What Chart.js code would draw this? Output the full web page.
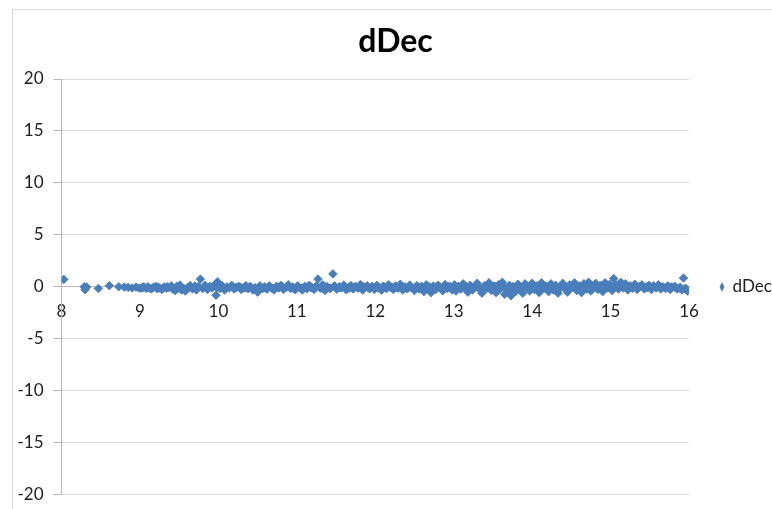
<!DOCTYPE html>
<html>
<head>
<meta charset="utf-8">
<script src="https://cdn.jsdelivr.net/npm/chart.js@4/dist/chart.umd.min.js"></script>
<style>
  html, body { margin: 0; padding: 0; width: 772px; height: 509px; overflow: hidden; background: #fff; }
  #frame { position: absolute; left: 12px; top: 9px; width: 900px; height: 700px; border: 1px solid #d9d9d9; box-sizing: border-box; }
  #wrap { position: absolute; left: 0; top: 0; width: 800px; height: 515px; }
</style>
</head>
<body>
<div id="frame"></div>
<div id="wrap"><canvas id="chart" width="800" height="515"></canvas></div>
<script>
// Series name, axis ranges and tick steps
const seriesName = 'dDec';
const xRange = [8, 16];
const xStep = 1;
const yRange = [-20, 20];
const yStep = 5;

// dDec values (x = position, y = deviation)
const dDecX = [
  8.03, 8.29, 8.30, 8.31, 8.32, 8.47, 8.61, 8.73, 8.80, 8.85, 8.90, 8.95, 8.99,
  9.02, 9.05, 9.08, 9.11, 9.14, 9.17, 9.20, 9.22, 9.25, 9.28, 9.31, 9.34, 9.37, 9.40, 9.42, 9.45, 9.47, 9.49,
  9.51, 9.53, 9.55, 9.58, 9.61, 9.64, 9.67, 9.70, 9.72, 9.75, 9.77, 9.80, 9.83, 9.86, 9.89, 9.92, 9.95, 9.97, 9.99,
  10.02, 10.05, 10.08, 10.11, 10.14, 10.17, 10.20, 10.23, 10.26, 10.29, 10.32, 10.35, 10.38, 10.41, 10.44, 10.47,
  10.50, 10.53, 10.56, 10.59, 10.62, 10.65, 10.68, 10.71, 10.74, 10.77, 10.80, 10.83, 10.86, 10.89, 10.92, 10.95, 10.98,
  11.01, 11.04, 11.07, 11.10, 11.13, 11.16, 11.19, 11.22, 11.25, 11.27, 11.30, 11.33, 11.36, 11.39, 11.42, 11.46, 11.48,
  11.51, 11.54, 11.57, 11.60, 11.63, 11.66, 11.69, 11.72, 11.75, 11.78, 11.81, 11.84, 11.87, 11.90, 11.93, 11.96, 11.99,
  12.02, 12.05, 12.08, 12.11, 12.14, 12.17, 12.20, 12.23, 12.26, 12.29, 12.32, 12.35, 12.38, 12.41, 12.44, 12.47,
  12.50, 12.53, 12.56, 12.59, 12.62, 12.65, 12.68, 12.71, 12.74, 12.77, 12.80, 12.83, 12.86, 12.89, 12.92, 12.95, 12.98,
  13.01, 13.03, 13.06, 13.09, 13.12, 13.15, 13.18, 13.21, 13.24, 13.27, 13.30, 13.33, 13.36, 13.39, 13.42, 13.45, 13.48,
  13.51, 13.54, 13.57, 13.60, 13.62, 13.65, 13.68, 13.71, 13.73, 13.76, 13.79, 13.82, 13.85, 13.88, 13.91, 13.94, 13.97,
  14.00, 14.03, 14.06, 14.09, 14.12, 14.15, 14.18, 14.21, 14.24, 14.27, 14.30, 14.33, 14.36, 14.39, 14.42, 14.45, 14.48,
  14.51, 14.54, 14.57, 14.60, 14.63, 14.66, 14.69, 14.72, 14.75, 14.78, 14.81, 14.84, 14.87, 14.90, 14.93, 14.96, 14.99,
  15.02, 15.04, 15.07, 15.10, 15.13, 15.16, 15.19, 15.22, 15.25, 15.28, 15.31, 15.34, 15.37, 15.40, 15.43, 15.46, 15.49,
  15.52, 15.55, 15.58, 15.61, 15.64, 15.67, 15.70, 15.73, 15.76, 15.79, 15.82, 15.85, 15.88, 15.91, 15.93, 15.95, 15.98,
  9.04, 9.10, 9.16, 9.23, 9.29, 9.35, 9.41, 9.46, 9.52, 9.57, 9.63, 9.69, 9.74, 9.81, 9.87, 9.93, 9.98,
  10.04, 10.10, 10.16, 10.22, 10.28, 10.34, 10.40, 10.46, 10.52, 10.58, 10.64, 10.70, 10.76, 10.82, 10.88, 10.94,
  11.00, 11.06, 11.12, 11.18, 11.24, 11.31, 11.37, 11.43, 11.49, 11.55, 11.61, 11.67, 11.73, 11.79, 11.85, 11.91, 11.97,
  12.03, 12.09, 12.15, 12.21, 12.27, 12.33, 12.39, 12.45, 12.51, 12.57, 12.63, 12.69, 12.75, 12.81, 12.87, 12.93, 12.99,
  13.04, 13.10, 13.16, 13.22, 13.28, 13.34, 13.40, 13.46, 13.52, 13.58, 13.64, 13.70, 13.75, 13.81, 13.87, 13.93, 13.98,
  14.04, 14.10, 14.16, 14.22, 14.28, 14.34, 14.40, 14.46, 14.52, 14.58, 14.64, 14.70, 14.76, 14.82, 14.88, 14.94, 14.98,
  15.05, 15.11, 15.17, 15.23, 15.29, 15.35, 15.41, 15.47, 15.53, 15.59, 15.65, 15.71, 15.77, 15.83, 15.89, 15.96
];
const dDecY = [
  0.72, 0.02, -0.28, -0.08, -0.02, -0.15, 0.12, 0.02, -0.02, -0.05, -0.10, -0.02, -0.12,
  -0.10, 0.02, -0.15, -0.05, -0.20, -0.08, 0.05, -0.18, -0.10, -0.25, 0.00, -0.12, -0.05, 0.10, -0.22, -0.35, 0.05, -0.10,
  0.18, -0.30, -0.15, -0.40, -0.05, 0.12, -0.20, 0.08, -0.30, 0.00, 0.75, -0.15, 0.15, -0.25, 0.05, -0.10, 0.20, -0.80, 0.50,
  -0.15, 0.10, -0.30, 0.00, -0.10, 0.15, -0.20, -0.05, 0.05, -0.25, -0.10, 0.12, -0.18, 0.02, -0.30, -0.08,
  -0.50, 0.10, -0.15, 0.00, -0.22, 0.10, -0.12, -0.30, 0.05, -0.10, 0.15, -0.25, -0.05, 0.20, -0.15, 0.00, -0.28,
  0.10, -0.12, -0.30, 0.05, -0.18, 0.15, -0.05, -0.25, 0.08, 0.75, -0.12, 0.20, -0.35, 0.00, -0.15, 1.25, 0.10,
  -0.22, 0.02, -0.10, 0.18, -0.28, -0.05, 0.12, -0.20, 0.05, -0.12, 0.22, -0.30, -0.02, 0.10, -0.18, 0.05, -0.25,
  0.15, -0.10, -0.32, 0.05, -0.15, 0.20, -0.05, -0.25, 0.10, -0.12, 0.25, -0.30, 0.00, -0.18, 0.18, -0.08,
  -0.35, 0.12, -0.20, 0.05, -0.45, 0.20, -0.12, -0.55, 0.08, -0.25, 0.15, -0.05, -0.38, 0.22, -0.15, 0.05, -0.30,
  0.20, -0.40, 0.05, -0.20, 0.30, -0.10, -0.50, 0.15, -0.30, 0.00, 0.35, -0.25, -0.60, 0.10, -0.15, 0.40, -0.35,
  0.05, -0.55, 0.20, -0.10, 0.45, -0.70, -0.30, 0.15, -0.85, 0.05, -0.45, 0.25, -0.20, -0.60, 0.30, -0.05, -0.40,
  0.35, -0.25, 0.10, -0.55, 0.40, -0.15, 0.05, -0.45, 0.30, -0.30, 0.15, -0.60, 0.00, 0.35, -0.20, -0.50, 0.20,
  -0.05, 0.40, -0.35, 0.10, -0.55, 0.30, -0.15, 0.45, -0.40, 0.05, 0.35, -0.25, 0.15, -0.45, 0.40, -0.10, 0.25,
  -0.35, 0.80, 0.20, -0.20, 0.45, -0.10, 0.30, -0.30, 0.10, -0.15, 0.25, -0.25, 0.05, 0.20, -0.20, 0.00, 0.15,
  -0.25, 0.10, -0.10, 0.20, -0.20, 0.00, -0.15, 0.10, -0.25, -0.05, 0.05, -0.20, -0.10, -0.30, 0.85, -0.15, -0.40,
  -0.05, 0.00, -0.10, -0.02, -0.12, 0.02, -0.08, -0.15, -0.05, -0.20, -0.02, -0.10, 0.02, -0.05, -0.12, 0.05, -0.08,
  -0.02, -0.12, 0.02, -0.08, -0.02, -0.10, 0.00, -0.12, -0.05, -0.10, 0.02, -0.15, -0.02, -0.08, 0.05, -0.10,
  -0.05, -0.12, 0.00, -0.08, -0.02, -0.10, 0.02, -0.12, -0.02, -0.08, 0.02, -0.12, -0.03, -0.08, 0.00, -0.10, -0.02,
  -0.08, 0.02, -0.12, -0.02, -0.08, 0.05, -0.12, -0.02, -0.15, -0.05, -0.18, 0.00, -0.12, -0.02, -0.15, 0.02, -0.10,
  -0.05, -0.15, 0.05, -0.12, 0.02, -0.20, 0.00, -0.10, 0.08, -0.25, 0.05, -0.35, -0.10, 0.05, -0.20, 0.02, -0.12,
  0.05, -0.20, 0.10, -0.15, 0.02, -0.25, 0.05, -0.15, 0.10, -0.10, 0.00, -0.20, 0.10, -0.05, -0.15, 0.10, -0.05,
  0.05, -0.05, 0.10, -0.10, 0.05, -0.05, 0.02, -0.08, 0.00, -0.05, -0.02, -0.08, 0.00, -0.10, -0.05, -0.15
];

const points = dDecX.map((x, i) => ({ x: x, y: dDecY[i] }));

// Styling
const FONT = 'Lato, "Open Sans", sans-serif';
const TICK_SIZE = 17;
const MARKER = '#4A7EBB';
const GRID = '#d9d9d9';
const AXIS = '#b8b8b8';
const TEXT = '#1e1e1e';

// Plot box edges on the page and legend spacing
const PLOT_LEFT = 61.5, PLOT_RIGHT = 689, TITLE_CENTER = 395.5;
const LEGEND_PAD = 31, LEGEND_BOX = 4;
const CANVAS_W = 800;

// Width the legend box takes: padding + marker box + gap + text, plus Chart.js's fixed 10px
const mctx = document.createElement('canvas').getContext('2d');
mctx.font = TICK_SIZE + 'px ' + FONT;
const legendW = LEGEND_PAD + LEGEND_BOX + TICK_SIZE / 2 + mctx.measureText(seriesName).width + 10;
const padLeft = 2 * TITLE_CENTER - PLOT_RIGHT - legendW;
const padRight = CANVAS_W - PLOT_RIGHT - legendW;
const yAxisWidth = PLOT_LEFT - padLeft;

new Chart(document.getElementById('chart'), {
  type: 'scatter',
  data: {
    datasets: [{
      label: seriesName,
      data: points,
      backgroundColor: MARKER,
      borderColor: MARKER,
      pointStyle: 'rectRot',
      pointRadius: 4.3,
      pointBorderWidth: 0.8,
      pointHoverRadius: 4.3
    }]
  },
  options: {
    responsive: false,
    animation: false,
    devicePixelRatio: 1,
    layout: { padding: { left: padLeft, right: padRight, top: 0, bottom: 8 } },
    plugins: {
      title: {
        display: true,
        text: seriesName,
        color: '#000',
        font: { family: FONT, size: 32, weight: 'bold', lineHeight: 1.2 },
        padding: { top: 22, bottom: 18.6 }
      },
      legend: {
        position: 'right',
        fullSize: false,
        labels: {
          usePointStyle: true,
          pointStyleWidth: LEGEND_BOX,
          boxHeight: 6,
          padding: LEGEND_PAD,
          color: TEXT,
          font: { family: FONT, size: TICK_SIZE }
        }
      },
      tooltip: { enabled: false }
    },
    scales: {
      x: {
        type: 'linear',
        position: { y: 0 },
        min: xRange[0],
        max: xRange[1],
        grid: { display: false },
        border: { display: true, color: AXIS, width: 1 },
        ticks: {
          stepSize: xStep,
          autoSkip: false,
          maxRotation: 0,
          padding: 6,
          color: TEXT,
          font: { family: FONT, size: TICK_SIZE }
        }
      },
      y: {
        type: 'linear',
        position: 'left',
        min: yRange[0],
        max: yRange[1],
        afterFit: (scale) => { scale.width = yAxisWidth; },
        grid: { color: GRID, tickColor: AXIS, tickLength: 8, drawTicks: true },
        border: { display: true, color: AXIS, width: 1 },
        ticks: {
          stepSize: yStep,
          padding: 10,
          color: TEXT,
          font: { family: FONT, size: TICK_SIZE }
        }
      }
    }
  }
});
</script>
</body>
</html>
